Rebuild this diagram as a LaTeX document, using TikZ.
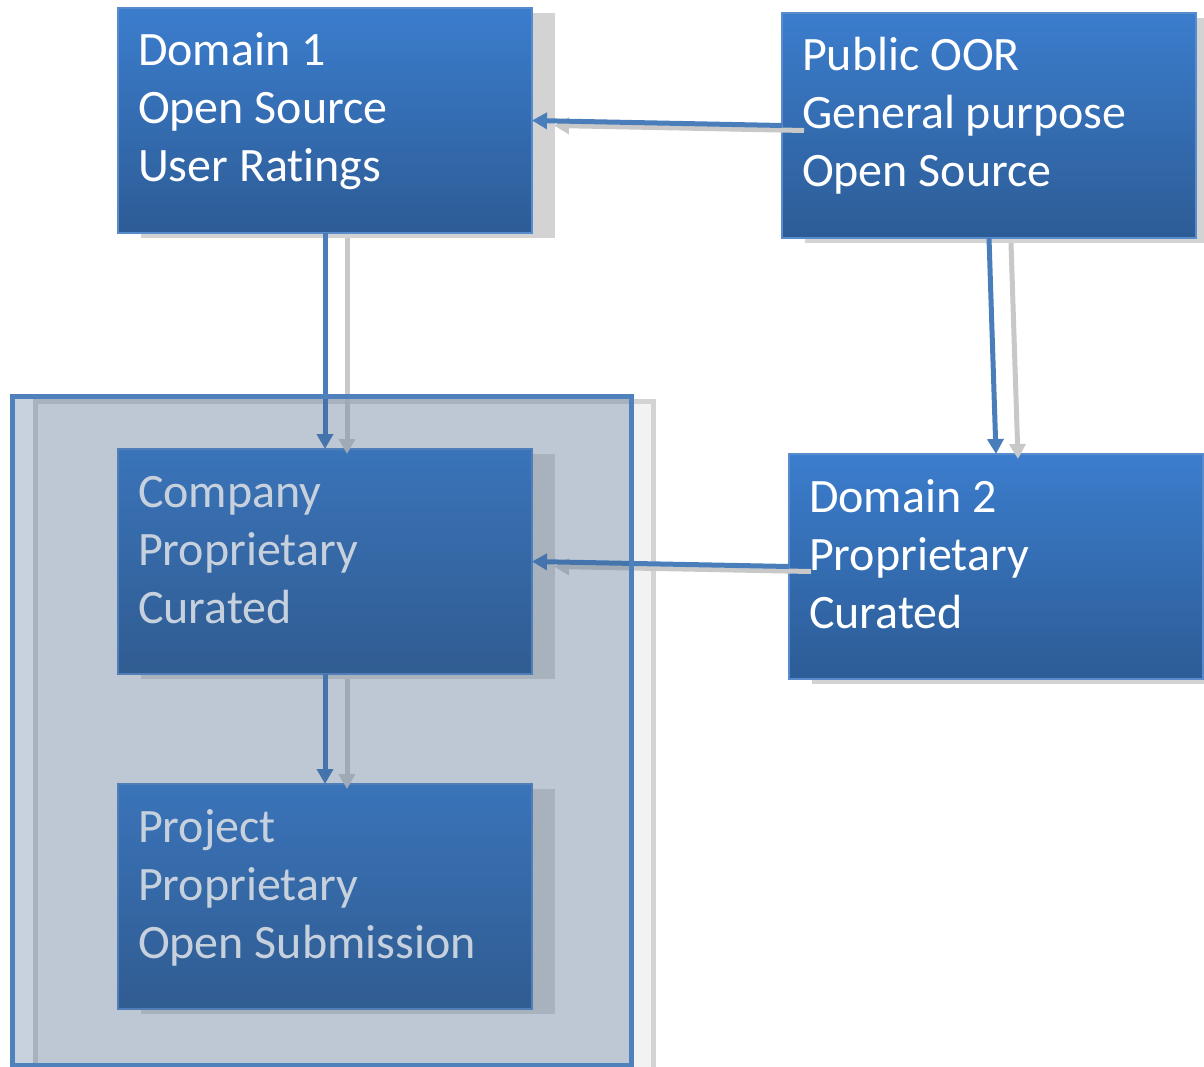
\documentclass[tikz,border=0pt]{standalone}
\usepackage{fontspec}
\setmainfont[Ligatures=NoCommon]{Carlito}
\usetikzlibrary{arrows.meta,calc}
\pgfdeclarelayer{shadowlayer}
\pgfdeclarelayer{toplayer}
\pgfsetlayers{shadowlayer,main,toplayer}

\definecolor{boxtop}{RGB}{59,125,205}
\definecolor{boxbot}{RGB}{45,92,150}
\definecolor{boxedge}{RGB}{88,140,205}
\definecolor{arrowblue}{RGB}{74,126,187}
\definecolor{shadowgray}{RGB}{211,211,211}
\definecolor{arrowgray}{RGB}{200,200,200}
\definecolor{grpfill}{RGB}{57,93,135}
\definecolor{grpedge}{RGB}{79,129,189}
\definecolor{grpshfill}{RGB}{242,242,242}
\definecolor{grpshedge}{RGB}{211,211,211}

\begin{document}
\begin{tikzpicture}[x=1pt,y=-1pt,
  box/.style={draw=boxedge, line width=1.5pt, top color=boxtop, bottom color=boxbot,
    minimum width=414pt, minimum height=225pt, inner sep=0pt, outer sep=0pt},
  boxtext/.style={anchor=north west, inner sep=0pt, outer sep=0pt, align=left, text=white,
    font=\fontsize{48}{58}\selectfont},
  boxshadow/.style={fill=shadowgray},
  conn/.style={draw=arrowblue, line width=5pt, -{Triangle[length=15pt,width=16pt]}},
  connshadow/.style={draw=arrowgray, line width=5pt, -{Triangle[length=15pt,width=16pt]},
    transform canvas={shift={(22pt,-5pt)}}},
  grp/.style={draw=grpedge, line width=5pt, fill=grpfill, fill opacity=0.28, draw opacity=1,
    minimum width=618.5pt, minimum height=668.5pt, inner sep=0pt, outer sep=0pt},
  grpshadow/.style={draw=grpshedge, fill=grpshfill, line width=5pt}
]
\useasboundingbox (0,0) rectangle (1204,1067);

% group container (overlay on top)
\begin{pgfonlayer}{toplayer}
  \node[grp] (grp) at (321.75,730.75) {};
\end{pgfonlayer}

% boxes
\node[box] (d1)   at (325,120.5) {};
\node[box] (oor)  at (989,125.5) {};
\node[box] (d2)   at (996,566.5) {};
\node[box] (comp) at (325,561.5) {};
\node[box] (proj) at (325,896.5) {};

% shadows
\begin{pgfonlayer}{shadowlayer}
  \draw[grpshadow] ([shift={(22.5,5)}]grp.north west) rectangle ([shift={(22.5,5)}]grp.south east);
  \foreach \b in {d1,oor,d2,comp,proj}{
    \fill[boxshadow] ([shift={(23,5)}]\b.north west) rectangle ([shift={(23,5)}]\b.south east);
  }
\end{pgfonlayer}

% texts
\node[boxtext] (t1) at ([shift={(20,21)}]d1.north west)   {\rule{0pt}{37pt}Domain 1\\Open Source\\User Ratings};
\node[boxtext] (t2) at ([shift={(20,21)}]oor.north west)  {\rule{0pt}{37pt}Public OOR\\General purpose\\Open Source};
\node[boxtext] (t3) at ([shift={(20,21)}]d2.north west)   {\rule{0pt}{37pt}Domain 2\\Proprietary\\Curated};
\node[boxtext] (t4) at ([shift={(20,21)}]comp.north west) {\rule{0pt}{37pt}Company\\Proprietary\\Curated};
\node[boxtext] (t5) at ([shift={(20,21)}]proj.north west) {\rule{0pt}{37pt}Project\\Proprietary\\Open Submission};

% connector shadows
\draw[connshadow] (d1.south) -- (comp.north);
\draw[connshadow] (comp.south) -- (proj.north);
\draw[connshadow] (oor.south) -- (d2.north);
\draw[connshadow] (oor.west) -- (d1.east);
\draw[connshadow] (d2.west) -- (comp.east);

% connectors
\draw[conn] (d1.south) -- (comp.north);
\draw[conn] (comp.south) -- (proj.north);
\draw[conn] (oor.south) -- (d2.north);
\draw[conn] (oor.west) -- (d1.east);
\draw[conn] (d2.west) -- (comp.east);
\end{tikzpicture}
\end{document}
